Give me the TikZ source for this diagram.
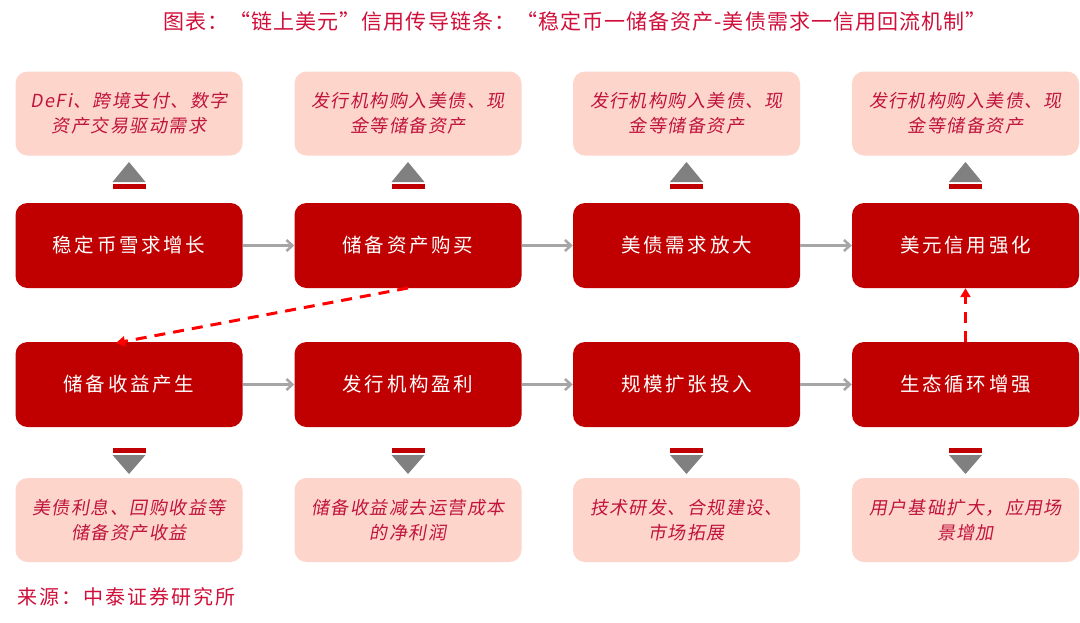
\documentclass[tikz,border=0pt]{standalone}
\usepackage{fontspec}
\usetikzlibrary{arrows.meta}
\newfontfamily\cjk{Noto Sans CJK SC}
\newfontfamily\cjktitle[LetterSpace=5]{Noto Sans CJK SC}
\newfontfamily\cjksrc[LetterSpace=10]{Noto Sans CJK SC}
\newfontfamily\cjkbox[LetterSpace=14]{Noto Sans CJK SC}
\newfontfamily\cjkit[FakeSlant=0.18,LetterSpace=8]{Noto Sans CJK SC}
\definecolor{boxred}{HTML}{C00000}
\definecolor{lightbox}{HTML}{FDD5CB}
\definecolor{lighttext}{HTML}{C0143C}
\definecolor{titlered}{HTML}{D0103A}
\definecolor{arrowgray}{HTML}{A6A6A6}
\definecolor{trigray}{HTML}{808080}
\definecolor{dashred}{HTML}{FF0000}
\tikzset{
  redbox/.style={fill=boxred, rounded corners=12pt, minimum width=227pt, minimum height=85pt,
    text=white, font=\cjkbox\fontsize{19.5}{23}\selectfont, inner sep=0pt},
  notebox/.style={fill=lightbox, rounded corners=12pt, minimum width=227pt, minimum height=84pt,
    text=lighttext, font=\cjkit\fontsize{18}{25}\selectfont, align=center, inner sep=0pt},
  grayarrow/.style={draw=arrowgray, line width=2.5pt, -{Straight Barb[length=6pt,width=11pt,line width=2.5pt]}},
  dasharrow/.style={draw=dashred, line width=3pt, dash pattern=on 11pt off 8pt,
    -{Triangle[length=9pt,width=10pt]}},
}
\begin{document}
\begin{tikzpicture}[x=1pt,y=-1pt]
\useasboundingbox (0,0) rectangle (1080,622);
\fill[white] (0,0) rectangle (1080,622);
% title
\node[text=titlered, font=\cjktitle\fontsize{21}{24}\selectfont] (title) at (575,22)
  {图表：“链上美元”信用传导链条：“稳定币一储备资产-美债需求一信用回流机制”};
% top notes
\node[notebox] (n1) at (129,113.5) {DeFi、跨境支付、数字\\资产交易驱动需求};
\node[notebox] (n2) at (408,113.5) {发行机构购入美债、现\\金等储备资产};
\node[notebox] (n3) at (686.5,113.5) {发行机构购入美债、现\\金等储备资产};
\node[notebox] (n4) at (965.5,113.5) {发行机构购入美债、现\\金等储备资产};
% row 1
\node[redbox] (a1) at (129,245.5) {稳定币雪求增长};
\node[redbox] (a2) at (408,245.5) {储备资产购买};
\node[redbox] (a3) at (686.5,245.5) {美债需求放大};
\node[redbox] (a4) at (965.5,245.5) {美元信用强化};
% row 2
\node[redbox] (b1) at (129,384.5) {储备收益产生};
\node[redbox] (b2) at (408,384.5) {发行机构盈利};
\node[redbox] (b3) at (686.5,384.5) {规模扩张投入};
\node[redbox] (b4) at (965.5,384.5) {生态循环增强};
% bottom notes
\node[notebox] (m1) at (129,520) {美债利息、回购收益等\\储备资产收益};
\node[notebox] (m2) at (408,520) {储备收益减去运营成本\\的净利润};
\node[notebox] (m3) at (686.5,520) {技术研发、合规建设、\\市场拓展};
\node[notebox] (m4) at (965.5,520) {用户基础扩大，应用场\\景增加};
% source
\node[anchor=west, text=titlered, font=\cjksrc\fontsize{20}{23}\selectfont] (src) at (14,597) {来源：中泰证券研究所};
% gray arrows
\foreach \i/\j in {a1/a2,a2/a3,a3/a4,b1/b2,b2/b3,b3/b4}{
  \draw[grayarrow] (\i.east) -- (\j.west);
}
% dashed arrows
\coordinate (d1s) at (408,288);
\coordinate (d1e) at (116,343);
\draw[dasharrow] (d1s) -- (d1e);
\draw[dasharrow] (b4.north) -- (a4.south);
% up markers
\foreach \c in {129,408,686.5,965.5}{
  \fill[trigray] (\c-16.5,182) -- (\c,162) -- (\c+16.5,182) -- cycle;
  \fill[boxred] (\c-16.5,184) rectangle (\c+16.5,188.5);
  \fill[boxred] (\c-16.5,448) rectangle (\c+16.5,452.5);
  \fill[trigray] (\c-16.5,455) -- (\c,474) -- (\c+16.5,455) -- cycle;
}
\end{tikzpicture}
\end{document}
